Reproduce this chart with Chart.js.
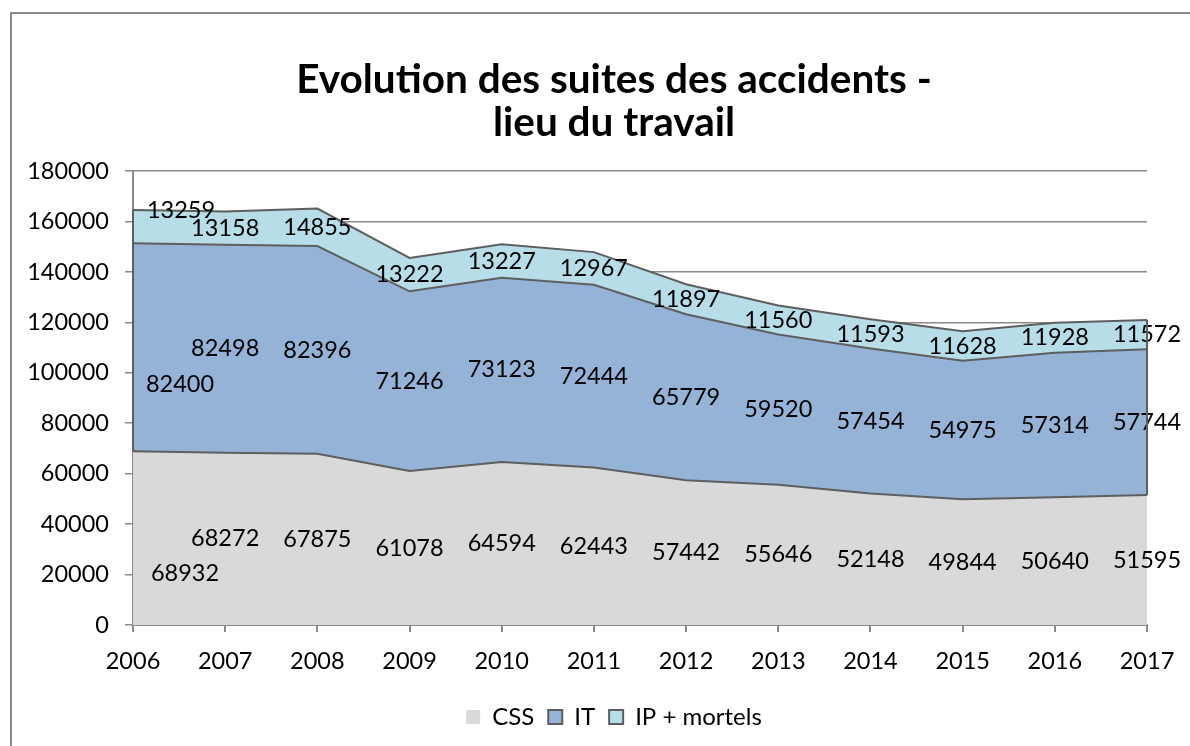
<!DOCTYPE html>
<html>
<head>
<meta charset="utf-8">
<script src="https://cdn.jsdelivr.net/npm/chart.js@4"></script>
<style>
  html, body { margin: 0; padding: 0; background: #fff; }
  #wrap { position: relative; width: 1190px; height: 746px; }
</style>
</head>
<body>
<div id="wrap"><canvas id="chart" width="1190" height="746"></canvas></div>
<script>
'use strict';

// données
var annees = ['2006', '2007', '2008', '2009', '2010', '2011', '2012', '2013', '2014', '2015', '2016', '2017'];
var css = [68932, 68272, 67875, 61078, 64594, 62443, 57442, 55646, 52148, 49844, 50640, 51595];
var it = [82400, 82498, 82396, 71246, 73123, 72444, 65779, 59520, 57454, 54975, 57314, 57744];
var ipMortels = [13259, 13158, 14855, 13222, 13227, 12967, 11897, 11560, 11593, 11628, 11928, 11572];
var yTicks = [0, 20000, 40000, 60000, 80000, 100000, 120000, 140000, 160000, 180000];

var police = 'Lato, "Open Sans", sans-serif';
var contour = '#5e5e5e';

// Excel décale les étiquettes du premier point
var decalagePremier = [[52, 35], [47, 37], [48, -16]];

/****************** étiquettes de données au milieu de chaque couche ******************/
var etiquettes = {
  id: 'etiquettes',
  afterDatasetsDraw: function(chart) {
    var ctx = chart.ctx;
    var xs = chart.scales.x, ys = chart.scales.y;
    var cumul = annees.map(function() { return 0; });
    ctx.save();
    ctx.font = '23.5px ' + police;
    ctx.fillStyle = '#000';
    ctx.textAlign = 'center';
    ctx.textBaseline = 'middle';
    chart.data.datasets.forEach(function(ds, i) {
      ds.data.forEach(function(v, j) {
        var x = xs.getPixelForValue(j);
        var y = ys.getPixelForValue(cumul[j] + v / 2);
        if (j === 0) { x += decalagePremier[i][0]; y += decalagePremier[i][1]; }
        ctx.fillText(String(v), x, y);
        cumul[j] += v;
      });
    });
    ctx.restore();
  }
};

/****************** bords verticaux des couches IT et IP + cadre ******************/
var bords = {
  id: 'bords',
  afterDatasetsDraw: function(chart) {
    var ctx = chart.ctx;
    var xs = chart.scales.x, ys = chart.scales.y;
    var n = annees.length - 1;
    ctx.save();
    ctx.strokeStyle = contour;
    ctx.lineWidth = 2;
    [0, n].forEach(function(j) {
      var x = xs.getPixelForValue(j);
      ctx.beginPath();
      ctx.moveTo(x, ys.getPixelForValue(css[j]));
      ctx.lineTo(x, ys.getPixelForValue(css[j] + it[j] + ipMortels[j]));
      ctx.stroke();
    });
    // cadre du graphique
    ctx.strokeStyle = '#8a8a8a';
    ctx.lineWidth = 2;
    ctx.beginPath();
    ctx.moveTo(11, 760);
    ctx.lineTo(11, 13);
    ctx.lineTo(1200, 13);
    ctx.stroke();
    ctx.restore();
  }
};

var data = {
  labels: annees,
  datasets: [{
    label: 'CSS',
    data: css,
    backgroundColor: '#d9d9d9',
    borderColor: contour,
    borderWidth: 2,
    fill: 'origin'
  }, {
    label: 'IT',
    data: it,
    backgroundColor: '#95b3d7',
    borderColor: contour,
    borderWidth: 2,
    fill: '-1'
  }, {
    label: 'IP + mortels',
    data: ipMortels,
    backgroundColor: '#b7dee8',
    borderColor: contour,
    borderWidth: 2,
    fill: '-1'
  }]
};

var options = {
  responsive: false,
  animation: false,
  // marge gauche pour centrer titre et légende comme dans Excel
  layout: { padding: { left: 81, right: 43, top: 0, bottom: 7 } },
  elements: { point: { radius: 0, hoverRadius: 0 }, line: { tension: 0 } },
  plugins: {
    tooltip: { enabled: false },
    title: {
      display: true,
      text: ['Evolution des suites des accidents -', 'lieu du travail'],
      color: '#000',
      font: { family: police, size: 40.5, weight: 'bold', lineHeight: 1.05 },
      padding: { top: 59, bottom: 27 }
    },
    legend: {
      position: 'bottom',
      labels: {
        color: '#000',
        font: { family: police, size: 24 },
        boxWidth: 14,
        boxHeight: 14,
        padding: 14,
        generateLabels: function(chart) {
          return chart.data.datasets.map(function(ds, i) {
            return {
              text: ds.label,
              fillStyle: ds.backgroundColor,
              strokeStyle: i === 0 ? ds.backgroundColor : contour,
              lineWidth: i === 0 ? 0 : 2,
              datasetIndex: i
            };
          });
        }
      }
    }
  },
  scales: {
    x: {
      offset: false,
      grid: { drawOnChartArea: false, drawTicks: true, tickLength: 7, color: '#8a8a8a', lineWidth: 2 },
      border: { color: '#8a8a8a', width: 2 },
      ticks: { color: '#000', font: { family: police, size: 23.5 }, padding: 15, maxRotation: 0 },
      afterFit: function(scale) { scale.height = 66; }
    },
    y: {
      stacked: true,
      min: 0,
      max: 180000,
      afterBuildTicks: function(scale) {
        scale.ticks = yTicks.map(function(v) { return { value: v }; });
      },
      grid: { color: '#8a8a8a', lineWidth: 1.5, tickLength: 8 },
      border: { color: '#8a8a8a', width: 2 },
      ticks: {
        color: '#000',
        font: { family: police, size: 23.5 },
        padding: 16,
        callback: function(v) { return String(v); }
      },
      afterFit: function(scale) {
        scale.width = 133 - 81;
        // les libellés débordent dans la marge gauche : pas de découpe
        scale._computeLabelArea = function() { return undefined; };
      }
    }
  }
};

var graphique = new Chart(document.getElementById('chart').getContext('2d'), {
  type: 'line',
  data: data,
  options: options,
  plugins: [etiquettes, bords]
});
</script>
</body>
</html>
